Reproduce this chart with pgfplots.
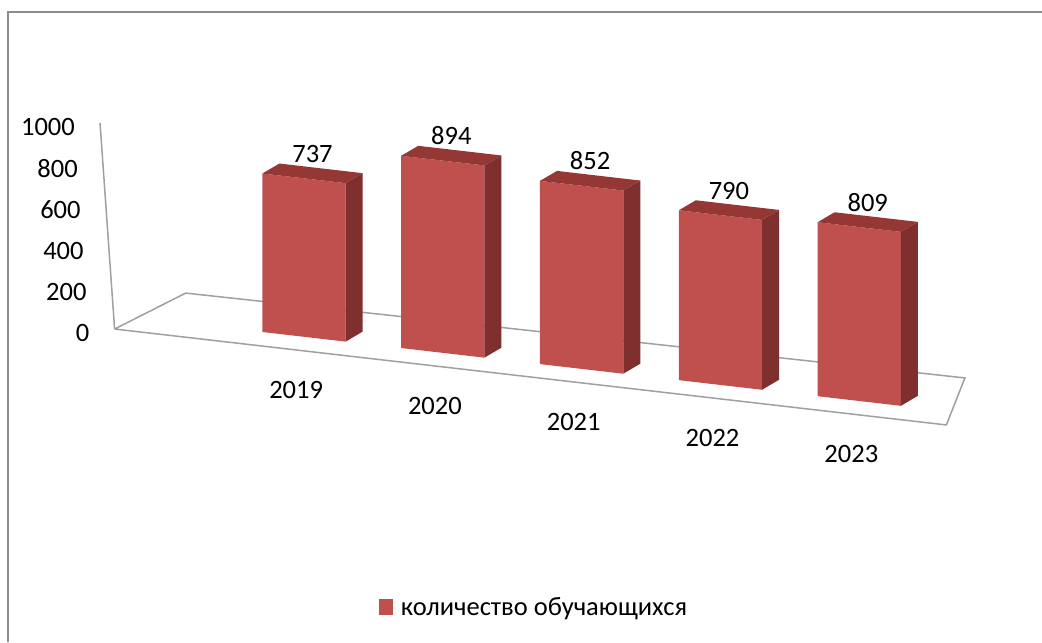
\documentclass[border=0pt]{standalone}
\usepackage{pgfplots}
\pgfplotsset{compat=1.18}
\usepackage{fontspec}
\setmainfont{Carlito}
\definecolor{barfront}{HTML}{C0504D}
\definecolor{barside}{HTML}{7F302E}
\definecolor{bartop}{HTML}{953735}
\definecolor{floorgray}{HTML}{A0A0A0}
\definecolor{framegray}{HTML}{8C8C8C}
\begin{document}
\fontsize{13.25}{16}\selectfont
\begin{tikzpicture}
\useasboundingbox (0,0) rectangle (521pt,-321pt);
\draw[framegray, line width=1pt] (3.75pt,-321pt) -- (3.75pt,-6.25pt) -- (521pt,-6.25pt);
\begin{axis}[
  at={(152pt,-168.4pt)}, anchor=origin,
  x={(69.4pt,-8.025pt)}, y={(8.5pt,5pt)}, z={(0pt,0.1075pt)},
  xmin=-1.5, xmax=5, ymin=-2.5, ymax=3.5, zmin=0, zmax=1000,
  hide axis, clip=false,
  /pgf/number format/assume math mode=true,
  every axis plot/.append style={no markers},
  legend style={draw=none, fill=none, at={(axis cs:4.167,-20.43,0)}, anchor=center,
    font=\fontsize{13.25}{16}\selectfont},
]
% floor and vertical axis line
\addplot3[floorgray, line width=0.75pt, forget plot] coordinates {(-1.22,-1.18,0) (-1.16,2.51,0) (4.40,2.95,0) (4.77,-1.16,0) (-1.22,-1.18,0)};
\addplot3[floorgray, line width=0.75pt, forget plot] coordinates {(-1.22,-1.18,0) (-1.216,-2.07,1000)};
% 2019: 737
\addplot3[fill=barfront, draw=none, forget plot] coordinates {(-0.3,0,0) (0.3,0,0) (0.3,0,737) (-0.3,0,737)};
\addplot3[fill=barside, draw=none, forget plot] coordinates {(0.3,0,0) (0.3,1,0) (0.3,1,737) (0.3,0,737)};
\addplot3[fill=bartop, draw=none, forget plot] coordinates {(-0.3,0,737) (0.3,0,737) (0.3,1,737) (-0.3,1,737)};
% 2020: 894
\addplot3[fill=barfront, draw=none, forget plot] coordinates {(0.7,0,0) (1.3,0,0) (1.3,0,894) (0.7,0,894)};
\addplot3[fill=barside, draw=none, forget plot] coordinates {(1.3,0,0) (1.3,1,0) (1.3,1,894) (1.3,0,894)};
\addplot3[fill=bartop, draw=none, forget plot] coordinates {(0.7,0,894) (1.3,0,894) (1.3,1,894) (0.7,1,894)};
% 2021: 852
\addplot3[fill=barfront, draw=none, forget plot] coordinates {(1.7,0,0) (2.3,0,0) (2.3,0,852) (1.7,0,852)};
\addplot3[fill=barside, draw=none, forget plot] coordinates {(2.3,0,0) (2.3,1,0) (2.3,1,852) (2.3,0,852)};
\addplot3[fill=bartop, draw=none, forget plot] coordinates {(1.7,0,852) (2.3,0,852) (2.3,1,852) (1.7,1,852)};
% 2022: 790
\addplot3[fill=barfront, draw=none, forget plot] coordinates {(2.7,0,0) (3.3,0,0) (3.3,0,790) (2.7,0,790)};
\addplot3[fill=barside, draw=none, forget plot] coordinates {(3.3,0,0) (3.3,1,0) (3.3,1,790) (3.3,0,790)};
\addplot3[fill=bartop, draw=none, forget plot] coordinates {(2.7,0,790) (3.3,0,790) (3.3,1,790) (2.7,1,790)};
% 2023: 809
\addplot3[fill=barfront, draw=none, forget plot] coordinates {(3.7,0,0) (4.3,0,0) (4.3,0,809) (3.7,0,809)};
\addplot3[fill=barside, draw=none, forget plot] coordinates {(4.3,0,0) (4.3,1,0) (4.3,1,809) (4.3,0,809)};
\addplot3[fill=bartop, draw=none, forget plot] coordinates {(3.7,0,809) (4.3,0,809) (4.3,1,809) (3.7,1,809)};
% value labels
\addplot3[draw=none, forget plot, nodes near coords, point meta=z,
  nodes near coords style={anchor=base, yshift=5.5pt, black, font=\fontsize{13.25}{16}\selectfont}]
  coordinates {(0,0.5,737) (1,0.5,894) (2,0.5,852) (3,0.5,790) (4,0.5,809)};
% vertical tick labels
\node[anchor=east, xshift=-8pt, yshift=-2pt] at (axis cs:-1.22,-1.18,0) {0};
\node[anchor=east, xshift=-8pt, yshift=-2pt] at (axis cs:-1.219,-1.358,200) {200};
\node[anchor=east, xshift=-8pt, yshift=-2pt] at (axis cs:-1.218,-1.536,400) {400};
\node[anchor=east, xshift=-8pt, yshift=-2pt] at (axis cs:-1.218,-1.714,600) {600};
\node[anchor=east, xshift=-8pt, yshift=-2pt] at (axis cs:-1.217,-1.892,800) {800};
\node[anchor=east, xshift=-8pt, yshift=-2pt] at (axis cs:-1.216,-2.07,1000) {1000};
% category labels
\node[xshift=6pt, yshift=-20.5pt] at (axis cs:0,-1.17,0) {2019};
\node[xshift=6pt, yshift=-20.5pt] at (axis cs:1,-1.17,0) {2020};
\node[xshift=6pt, yshift=-20.5pt] at (axis cs:2,-1.17,0) {2021};
\node[xshift=6pt, yshift=-20.5pt] at (axis cs:3,-1.17,0) {2022};
\node[xshift=6pt, yshift=-20.5pt] at (axis cs:4,-1.17,0) {2023};
% legend
\addlegendimage{legend image code/.code={\fill[barfront] (0pt,-3.25pt) rectangle (6.5pt,4.25pt); \path (8.5pt,0pt);}}
\addlegendentry{количество обучающихся}
\end{axis}
\end{tikzpicture}
\end{document}
